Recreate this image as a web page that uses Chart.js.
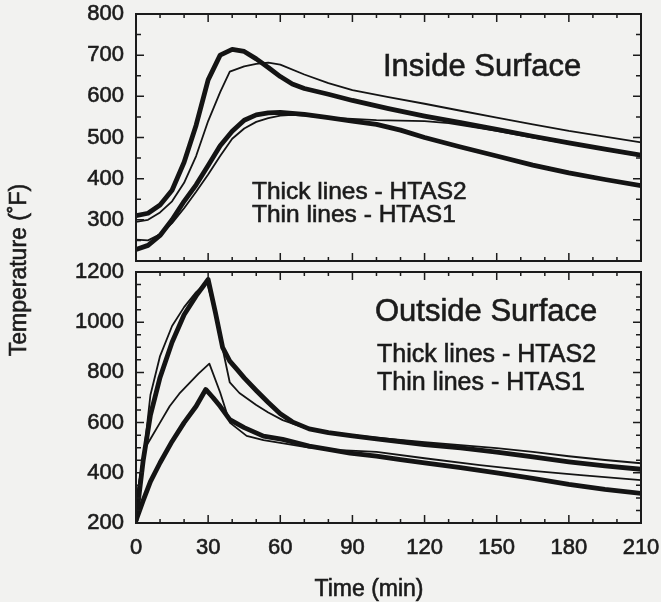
<!DOCTYPE html>
<html>
<head>
<meta charset="utf-8">
<script src="https://cdn.jsdelivr.net/npm/chart.js@4.4.0/dist/chart.umd.min.js"></script>
<style>
  html, body { margin: 0; padding: 0; background: #f2f2f0; }
  #wrap { position: relative; width: 661px; height: 602px; }
  #wrap canvas { position: absolute; left: 0; top: 0; }
</style>
</head>
<body>
<div id="wrap">
  <canvas id="inside" width="661" height="602"></canvas>
  <canvas id="outside" width="661" height="602"></canvas>
</div>
<script>
// Inside surface, time in min, temperature in F
const inTimeThickA = [0, 5, 10, 15, 20, 25, 30, 35, 40, 45, 50, 55, 60, 65, 70, 80, 90, 105, 120, 135, 150, 165, 180, 195, 210];
const inThickA = [310, 316, 336, 372, 440, 530, 640, 700, 714, 709, 691, 670, 648, 630, 619, 605, 590, 570, 552, 536, 520, 503, 487, 472, 457];
const inTimeThinA = [0, 5, 10, 15, 20, 25, 30, 35, 39, 45, 50, 55, 60, 70, 80, 90, 105, 120, 135, 150, 165, 180, 195, 210];
const inThinA = [295, 300, 318, 345, 390, 455, 540, 610, 660, 673, 679, 682, 677, 653, 632, 615, 598, 582, 565, 548, 532, 516, 502, 488];
const inTimeThickB = [0, 5, 10, 15, 20, 25, 30, 35, 40, 45, 50, 55, 60, 70, 80, 90, 100, 110, 120, 135, 150, 165, 180, 195, 210];
const inThickB = [228, 238, 262, 300, 345, 385, 432, 480, 515, 542, 555, 560, 561, 556, 548, 540, 532, 518, 500, 477, 455, 433, 414, 398, 383];
const inTimeThinB = [0, 5, 10, 15, 20, 25, 30, 35, 40, 45, 50, 55, 60, 65, 70, 80, 90, 100, 110, 120, 130, 150, 165, 180, 195, 210];
const inThinB = [252, 250, 265, 292, 328, 368, 410, 455, 497, 522, 538, 547, 553, 555, 553, 548, 545, 542, 541, 540, 535, 516, 500, 485, 470, 455];

// Outside surface
const outTimeThickA = [0, 3, 6, 10, 15, 20, 25, 30, 33, 36, 39, 42, 45, 50, 55, 60, 65, 72, 80, 90, 100, 120, 135, 150, 165, 180, 195, 210];
const outThickA = [210, 450, 630, 780, 920, 1030, 1105, 1170, 1040, 900, 845, 812, 778, 728, 680, 635, 603, 575, 560, 547, 535, 512, 499, 482, 463, 444, 428, 414];
const outTimeThinA = [0, 3.5, 6, 10, 15, 20, 25, 29.5, 33, 36, 39, 43, 50, 55, 61, 70, 80, 90, 100, 120, 135, 150, 165, 180, 195, 210];
const outThinA = [280, 495, 710, 865, 985, 1060, 1120, 1160, 1035, 895, 760, 718, 670, 640, 610, 580, 563, 550, 540, 522, 510, 498, 483, 466, 451, 438];
const outTimeThickB = [0, 3, 6, 10, 15, 20, 25, 29, 32, 35, 39, 45, 53, 61, 72, 80, 89, 100, 110, 120, 135, 150, 165, 180, 195, 210];
const outThickB = [210, 290, 365, 440, 525, 600, 665, 732, 700, 665, 612, 580, 546, 533, 506, 493, 478, 466, 452, 440, 421, 400, 378, 354, 334, 318];
const outTimeThinB = [0, 3.5, 6, 10, 14, 18, 22, 26, 30.5, 35, 39, 46, 53, 60, 72, 85, 100, 120, 143, 165, 185, 210];
const outThinB = [280, 495, 535, 600, 665, 715, 755, 795, 835, 720, 600, 547, 530, 519, 500, 490, 483, 458, 431, 408, 391, 371];

const FONT = "'Liberation Sans', Arial, Helvetica, sans-serif";
const INK = '#1b1b1b';

const pts = (t, v) => t.map((x, i) => ({ x, y: v[i] }));

function line(t, v, thick) {
  return {
    data: pts(t, v),
    borderColor: '#141414',
    borderWidth: thick ? 4.8 : 1.8,
    pointRadius: 0,
    tension: 0,
    borderJoinStyle: 'round',
    borderCapStyle: 'round'
  };
}

// frame with inward ticks on all four sides, plus free text
const panelDeco = {
  id: 'panelDeco',
  afterDatasetsDraw(chart, args, o) {
    const { ctx, chartArea: a, scales: { x, y } } = chart;
    ctx.save();
    ctx.strokeStyle = INK;
    ctx.lineWidth = 1.5;
    ctx.beginPath();
    for (let v = x.min; v <= x.max; v += o.xMinor) {
      const p = x.getPixelForValue(v);
      const len = v % o.xMajor === 0 ? 8 : 4;
      ctx.moveTo(p, a.bottom); ctx.lineTo(p, a.bottom - len);
      ctx.moveTo(p, a.top); ctx.lineTo(p, a.top + len);
    }
    for (let v = y.min; v <= y.max; v += o.yMinor) {
      const p = y.getPixelForValue(v);
      const len = v % o.yMajor === 0 ? 8 : 5;
      ctx.moveTo(a.left, p); ctx.lineTo(a.left + len, p);
      ctx.moveTo(a.right, p); ctx.lineTo(a.right - len, p);
    }
    ctx.stroke();
    ctx.lineWidth = 2;
    ctx.strokeRect(a.left, a.top, a.width, a.height);
    ctx.restore();
  },
  afterDraw(chart, args, o) {
    const ctx = chart.ctx;
    ctx.save();
    ctx.fillStyle = INK;
    ctx.strokeStyle = INK;
    ctx.lineWidth = 0.6;
    ctx.textBaseline = 'middle';
    (o.notes || []).forEach(n => {
      ctx.save();
      ctx.font = n.size + 'px ' + FONT;
      ctx.textAlign = n.align || 'left';
      ctx.translate(n.x, n.y);
      if (n.rot) ctx.rotate(n.rot);
      ctx.fillText(n.text, 0, 0);
      ctx.strokeText(n.text, 0, 0);
      ctx.restore();
    });
    ctx.restore();
  }
};

function yAxis(min, max, step, hideMin) {
  return {
    type: 'linear', min, max,
    grid: { display: false, drawTicks: false },
    border: { display: false },
    ticks: {
      stepSize: step, padding: 12, color: INK, autoSkip: false,
      textStrokeColor: INK, textStrokeWidth: 0.6,
      font: { family: FONT, size: 22 },
      callback: v => (hideMin && v === min) ? '' : v
    },
    afterFit: s => { s.width = 136; s.paddingTop = 0; s.paddingBottom = 0; }
  };
}

function xAxis(show) {
  return {
    type: 'linear', min: 0, max: 210, display: show,
    grid: { display: false, drawTicks: false },
    border: { display: false },
    ticks: {
      stepSize: 30, padding: 12, color: INK, maxRotation: 0, autoSkip: false,
      textStrokeColor: INK, textStrokeWidth: 0.6,
      font: { family: FONT, size: 22 }
    },
    afterFit: s => { s.height = show ? 79 : 0; s.paddingLeft = 0; s.paddingRight = 0; }
  };
}

const common = {
  responsive: false,
  animation: false,
  devicePixelRatio: 1,
  plugins: { legend: { display: false }, tooltip: { enabled: false } }
};

new Chart(document.getElementById('inside'), {
  type: 'line',
  data: {
    datasets: [
      line(inTimeThinA, inThinA, false),
      line(inTimeThinB, inThinB, false),
      line(inTimeThickA, inThickA, true),
      line(inTimeThickB, inThickB, true)
    ]
  },
  options: {
    ...common,
    layout: { padding: { top: 14, bottom: 341, left: 0, right: 20 } },
    scales: { x: xAxis(false), y: yAxis(200, 800, 100, true) },
    plugins: {
      ...common.plugins,
      panelDeco: {
        xMinor: 10, xMajor: 30, yMinor: 50, yMajor: 100,
        notes: [
          { text: 'Inside Surface', x: 383, y: 67, size: 31 },
          { text: 'Thick lines - HTAS2', x: 252, y: 192, size: 24.5 },
          { text: 'Thin lines - HTAS1', x: 252, y: 215, size: 24.5 },
          { text: 'Temperature (˚F)', x: 20, y: 270, size: 23, align: 'center', rot: -Math.PI / 2 }
        ]
      }
    }
  },
  plugins: [panelDeco]
});

new Chart(document.getElementById('outside'), {
  type: 'line',
  data: {
    datasets: [
      line(outTimeThinA, outThinA, false),
      line(outTimeThinB, outThinB, false),
      line(outTimeThickA, outThickA, true),
      line(outTimeThickB, outThickB, true)
    ]
  },
  options: {
    ...common,
    layout: { padding: { top: 272, bottom: 0, left: 0, right: 20 } },
    scales: { x: xAxis(true), y: yAxis(200, 1200, 200, false) },
    plugins: {
      ...common.plugins,
      panelDeco: {
        xMinor: 10, xMajor: 30, yMinor: 50, yMajor: 200,
        notes: [
          { text: 'Outside Surface', x: 375, y: 312, size: 31 },
          { text: 'Thick lines - HTAS2', x: 377, y: 355, size: 25 },
          { text: 'Thin lines - HTAS1', x: 377, y: 383, size: 25 },
          { text: 'Time (min)', x: 369, y: 590, size: 23, align: 'center' }
        ]
      }
    }
  },
  plugins: [panelDeco]
});
</script>
</body>
</html>
